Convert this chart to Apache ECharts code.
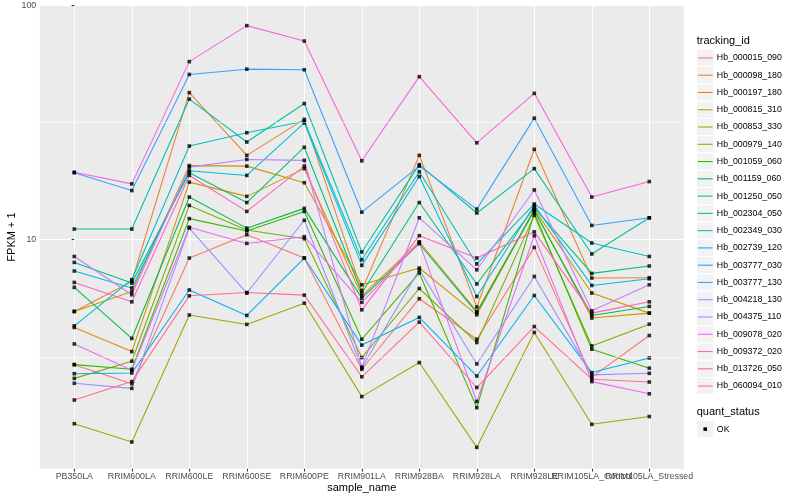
<!DOCTYPE html>
<html>
<head>
<meta charset="utf-8">
<script src="https://cdn.jsdelivr.net/npm/echarts@6/dist/echarts.min.js"></script>
<style>html,body{margin:0;padding:0;background:#fff}#c{width:800px;height:500px}</style>
</head>
<body>
<div id="c"></div>
<script>
// ---- data ----
const categories = ['PB350LA','RRIM600LA','RRIM600LE','RRIM600SE','RRIM600PE','RRIM901LA','RRIM928BA','RRIM928LA','RRIM928LE','RRIM105LA_Control','RRIM105LA_Stressed'];
const trackingIds = ['Hb_000015_090','Hb_000098_180','Hb_000197_180','Hb_000815_310','Hb_000853_330','Hb_000979_140','Hb_001059_060','Hb_001159_060','Hb_001250_050','Hb_002304_050','Hb_002349_030','Hb_002739_120','Hb_003777_030','Hb_003777_130','Hb_004218_130','Hb_004375_110','Hb_009078_020','Hb_009372_020','Hb_013726_050','Hb_060094_010'];
const hb000015_090 = [2.93, 2.43, 8.35, 10.5, 8.35, 2.80, 5.60, 3.76, 9.27, 2.59, 3.90];
const hb000098_180 = [4.94, 6.63, 42.4, 22.9, 32.6, 6.07, 22.9, 5.16, 24.3, 6.86, 6.88];
const hb000197_180 = [4.22, 3.33, 17.6, 15.3, 20.1, 5.76, 9.80, 4.94, 13.4, 4.63, 4.86];
const hb000815_310 = [4.94, 6.01, 20.7, 20.6, 17.5, 6.42, 7.57, 4.78, 13.5, 5.92, 4.86];
const hb000853_330 = [1.64, 1.37, 4.77, 4.35, 5.36, 2.14, 2.99, 1.30, 4.02, 1.63, 1.76];
const hb000979_140 = [2.56, 3.03, 14.0, 11.0, 10.1, 3.14, 6.19, 3.64, 12.7, 3.52, 4.36];
const hb001059_060 = [2.93, 2.80, 12.3, 10.9, 13.2, 3.76, 7.21, 1.92, 13.0, 3.41, 2.83];
const hb001159_060 = [6.26, 3.79, 15.2, 11.2, 13.6, 5.63, 9.61, 4.88, 13.3, 4.75, 5.19];
const hb001250_050 = [8.00, 6.53, 19.3, 14.4, 24.8, 5.92, 14.4, 6.47, 13.7, 7.18, 7.72];
const hb002304_050 = [11.1, 11.1, 39.8, 26.1, 38.1, 8.86, 20.9, 13.0, 20.1, 8.69, 12.4];
const hb002349_030 = [4.29, 6.75, 25.1, 28.6, 32.0, 8.21, 19.5, 7.88, 14.2, 9.68, 8.48];
const hb002739_120 = [7.35, 6.22, 19.7, 18.8, 31.5, 7.77, 18.6, 5.72, 14.0, 6.38, 6.81];
const hb003777_030 = [2.68, 2.70, 6.10, 4.75, 8.35, 3.55, 4.66, 2.62, 5.78, 2.71, 3.13];
const hb003777_130 = [19.3, 16.2, 50.7, 53.4, 53.1, 13.1, 20.6, 13.5, 33.0, 11.5, 12.4];
const hb004218_130 = [2.44, 2.32, 11.2, 5.92, 12.1, 2.84, 7.44, 2.95, 6.97, 2.65, 2.69];
const hb004375_110 = [8.48, 5.82, 20.4, 22.0, 21.8, 2.86, 12.4, 7.44, 16.3, 4.97, 6.42];
const hb009078_020 = [3.59, 2.77, 11.3, 9.64, 10.3, 5.40, 9.71, 2.04, 10.4, 2.48, 2.20];
const hb009372_020 = [19.4, 17.3, 57.5, 81.9, 70.4, 21.7, 49.6, 25.9, 42.1, 15.2, 17.7];
const hb013726_050 = [6.57, 5.43, 18.8, 13.2, 20.6, 5.02, 10.4, 8.35, 10.8, 4.86, 5.43];
const hb060094_010 = [2.07, 2.48, 5.76, 5.95, 5.80, 2.60, 4.45, 2.34, 4.26, 2.54, 2.47];
const yTicks = [10, 100];
const yMinorGrid = [3.1623, 31.623];
const quantStatus = ['OK'];

const allSeries = [hb000015_090, hb000098_180, hb000197_180, hb000815_310, hb000853_330, hb000979_140, hb001059_060, hb001159_060, hb001250_050, hb002304_050, hb002349_030, hb002739_120, hb003777_030, hb003777_130, hb004218_130, hb004375_110, hb009078_020, hb009372_020, hb013726_050, hb060094_010];

// ---- style ----
const colors = ['#F8766D','#EA8331','#D89000','#C09B00','#A3A500','#7CAE00','#39B600','#00BB4E','#00BF7D','#00C1A3','#00BFC4','#00BAE0','#00B0F6','#35A2FF','#9590FF','#C77CFF','#E76BF3','#FA62DB','#FF62BC','#FF6C91'];
const FONT = '"Liberation Sans", Arial, Helvetica, sans-serif';
const xIdx = categories.map((c, i) => i);
const xIdxEven = xIdx.filter(i => i % 2 === 0);
const xIdxOdd = xIdx.filter(i => i % 2 === 1);

const series = [];
series.push({
  type: 'line', data: [], silent: true, z: 1,
  markLine: {
    silent: true, symbol: ['none', 'none'], label: {show: false},
    lineStyle: {color: '#ffffff', width: 0.55, type: 'solid'},
    animation: false,
    data: yMinorGrid.map(v => ({yAxis: v}))
  }
});
allSeries.forEach((vals, i) => {
  series.push({
    name: trackingIds[i], type: 'line', z: 2, silent: true,
    showSymbol: false, symbol: 'none',
    data: vals.map((v, j) => [j, v]),
    lineStyle: {color: colors[i], width: 1.07},
    itemStyle: {color: colors[i]}
  });
});
const pts = [];
allSeries.forEach(vals => vals.forEach((v, j) => pts.push([j, v])));
series.push({
  name: quantStatus[0], type: 'scatter', z: 3, silent: true,
  symbol: 'rect', symbolSize: 3.6, data: pts,
  itemStyle: {color: '#000000'}
});

// ---- legend drawn as graphic ----
const keyX = 696.6, keyS = 17.27, firstTop = 49.3;
const g = [];
g.push({type: 'text', x: 696.7, y: 40.7, style: {text: 'tracking_id', fontSize: 11, fontFamily: FONT, fill: '#000', verticalAlign: 'middle', align: 'left'}});
trackingIds.forEach((id, i) => {
  const top = firstTop + keyS * i;
  const cy = top + keyS / 2;
  g.push({type: 'rect', shape: {x: keyX, y: top, width: keyS, height: keyS}, style: {fill: '#F2F2F2', stroke: '#ffffff', lineWidth: 1}});
  g.push({type: 'line', shape: {x1: keyX + 1.2, y1: cy, x2: keyX + keyS - 1.2, y2: cy}, style: {stroke: colors[i], lineWidth: 1.07}});
  g.push({type: 'text', x: 716.8, y: cy, style: {text: id, fontSize: 8.8, fontFamily: FONT, fill: '#000', verticalAlign: 'middle', align: 'left'}});
});
g.push({type: 'text', x: 696.7, y: 412.3, style: {text: 'quant_status', fontSize: 11, fontFamily: FONT, fill: '#000', verticalAlign: 'middle', align: 'left'}});
const okTop = 420.5;
g.push({type: 'rect', shape: {x: keyX, y: okTop, width: keyS, height: keyS}, style: {fill: '#F2F2F2', stroke: '#ffffff', lineWidth: 1}});
g.push({type: 'rect', shape: {x: keyX + keyS / 2 - 1.8, y: okTop + keyS / 2 - 1.8, width: 3.6, height: 3.6}, style: {fill: '#000'}});
g.push({type: 'text', x: 716.8, y: okTop + keyS / 2, style: {text: quantStatus[0], fontSize: 8.8, fontFamily: FONT, fill: '#000', verticalAlign: 'middle', align: 'left'}});

const labelStyle = {color: '#4D4D4D', fontSize: 8.8, fontFamily: FONT, margin: 3.6, hideOverlap: false, showMaxLabel: true, showMinLabel: true, formatter: v => categories[Math.round(v)] || ''};

const chart = echarts.init(document.getElementById('c'), null, {renderer: 'canvas'});
chart.setOption({
  animation: false,
  backgroundColor: '#ffffff',
  textStyle: {fontFamily: FONT},
  grid: {left: 39.8, right: 116.2, top: 5.3, bottom: 31.2, show: true, backgroundColor: '#EBEBEB', borderWidth: 0, containLabel: false, outerBoundsMode: 'none'},
  xAxis: [{
    type: 'value', min: -0.6, max: 10.6, position: 'bottom',
    name: 'sample_name', nameLocation: 'middle', nameGap: 13.8, nameMoveOverlap: false,
    nameTextStyle: {fontSize: 11, color: '#000', fontFamily: FONT},
    axisLine: {show: false},
    axisTick: {show: true, customValues: xIdx, length: 2.7, lineStyle: {color: '#333333', width: 1.07}},
    axisLabel: Object.assign({customValues: xIdxEven}, labelStyle),
    splitLine: {show: true, lineStyle: {color: '#ffffff', width: 1.07}}
  }, {
    type: 'value', min: -0.6, max: 10.6, position: 'bottom', offset: 0,
    axisLine: {show: false}, axisTick: {show: false}, splitLine: {show: false},
    axisLabel: Object.assign({customValues: xIdxOdd}, labelStyle)
  }],
  yAxis: {
    type: 'log', logBase: 10, min: 1.053, max: 100,
    name: 'FPKM + 1', nameLocation: 'middle', nameGap: 22, nameRotate: 90, nameMoveOverlap: false,
    nameTextStyle: {fontSize: 11, color: '#000', fontFamily: FONT},
    axisLine: {show: false},
    axisTick: {show: true, customValues: yTicks, length: 2.7, lineStyle: {color: '#333333', width: 1.07}},
    axisLabel: {customValues: yTicks, formatter: v => String(Math.round(v)), color: '#4D4D4D', fontSize: 8.8, fontFamily: FONT, margin: 3.6},
    splitLine: {show: true, lineStyle: {color: '#ffffff', width: 1.07}}
  },
  graphic: {elements: g},
  series: series
});
</script>
</body>
</html>
